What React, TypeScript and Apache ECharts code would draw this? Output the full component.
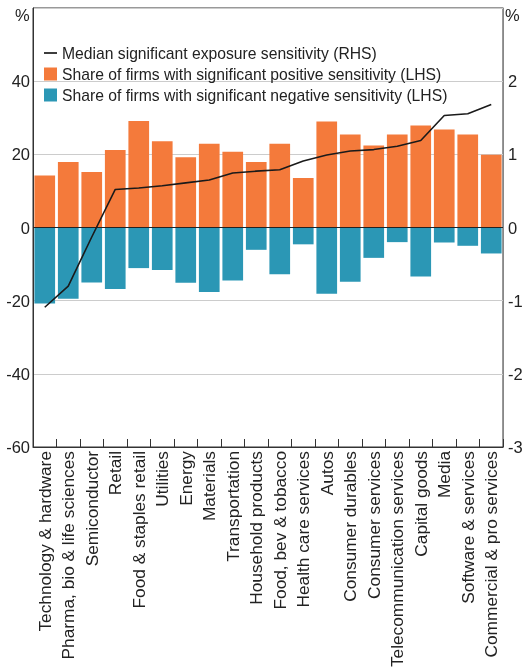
import React, { useEffect, useRef } from "react";
import * as echarts from "echarts";

const categories = [
  "Technology & hardware",
  "Pharma, bio & life sciences",
  "Semiconductor",
  "Retail",
  "Food & staples retail",
  "Utilities",
  "Energy",
  "Materials",
  "Transportation",
  "Household products",
  "Food, bev & tobacco",
  "Health care services",
  "Autos",
  "Consumer durables",
  "Consumer services",
  "Telecommunication services",
  "Capital goods",
  "Media",
  "Software & services",
  "Commercial & pro services",
];

const positiveShare = [14.2, 17.9, 15.2, 21.2, 29.1, 23.6, 19.2, 22.9, 20.7, 17.9, 22.9, 13.5, 29.0, 25.4, 22.4, 25.4, 27.9, 26.8, 25.4, 19.9];
const negativeShare = [-20.8, -19.5, -15.0, -16.8, -11.1, -11.6, -15.1, -17.6, -14.5, -6.1, -12.8, -4.6, -18.1, -14.8, -8.3, -4.0, -13.4, -4.1, -5.0, -7.1];
const medianSensitivity = [-1.09, -0.8, -0.13, 0.52, 0.54, 0.57, 0.61, 0.65, 0.745, 0.77, 0.79, 0.91, 0.99, 1.045, 1.065, 1.11, 1.19, 1.53, 1.555, 1.68];

const seriesNames = [
  "Median significant exposure sensitivity (RHS)",
  "Share of firms with significant positive sensitivity (LHS)",
  "Share of firms with significant negative sensitivity (LHS)",
];

const ORANGE = "#F47A3B";
const TEAL = "#2B97B5";
const FONT = "Liberation Sans";

export default function App() {
  const ref = useRef<HTMLDivElement>(null);
  useEffect(() => {
    if (!ref.current) return;
    const chart = echarts.init(ref.current, null, { renderer: "svg" });
    chart.setOption({
      animation: false,
      textStyle: { fontFamily: FONT },
      grid: {
        left: 33,
        right: 25,
        top: 8,
        bottom: 225,
        show: true,
        borderColor: "#333",
        borderWidth: 1,
        backgroundColor: "transparent",
      },
      legend: {
        orient: "vertical",
        left: 39,
        top: 40,
        itemWidth: 13,
        itemHeight: 13,
        itemGap: 5,
        textStyle: { fontSize: 15.7, color: "#222", fontFamily: FONT },
        data: [
          { name: seriesNames[0], icon: "path://M0,5.5 L16,5.5 L16,7.5 L0,7.5 Z", itemStyle: { color: "#111" } },
          { name: seriesNames[1], icon: "rect" },
          { name: seriesNames[2], icon: "rect" },
        ],
      },
      xAxis: {
        type: "category",
        data: categories,
        position: "bottom",
        axisLine: { show: true, onZero: false, lineStyle: { color: "#333", width: 1 } },
        axisTick: { show: true, inside: true, length: 8, lineStyle: { color: "#333" } },
        axisLabel: {
          rotate: 90,
          interval: 0,
          fontSize: 17.3,
          color: "#222",
          margin: 4,
          fontFamily: FONT,
        },
      },
      yAxis: [
        {
          type: "value",
          min: -60,
          max: 60,
          interval: 20,
          position: "left",
          axisLine: { show: true, lineStyle: { color: "#333" } },
          axisTick: { show: false },
          splitLine: { show: true, lineStyle: { color: "#cccccc", width: 1 } },
          axisLabel: {
            fontSize: 16.5,
            color: "#222",
            margin: 3,
            fontFamily: FONT,
            formatter: (v: number) => (v === 60 ? "" : String(v)),
          },
        },
        {
          type: "value",
          min: -3,
          max: 3,
          interval: 1,
          position: "right",
          axisLine: { show: true, lineStyle: { color: "#888" } },
          axisTick: { show: false },
          splitLine: { show: false },
          axisLabel: {
            fontSize: 16.5,
            color: "#222",
            margin: 5,
            fontFamily: FONT,
            formatter: (v: number) => (v === 3 ? "" : String(v)),
          },
        },
      ],
      series: [
        {
          name: seriesNames[1],
          type: "bar",
          data: positiveShare,
          yAxisIndex: 0,
          barCategoryGap: "12%",
          barGap: "-100%",
          itemStyle: { color: ORANGE },
          z: 2,
        },
        {
          name: seriesNames[2],
          type: "bar",
          data: negativeShare,
          yAxisIndex: 0,
          barCategoryGap: "12%",
          barGap: "-100%",
          itemStyle: { color: TEAL },
          z: 2,
          markLine: {
            silent: true,
            symbol: "none",
            label: { show: false },
            lineStyle: { color: "#222", width: 1.2, type: "solid" },
            data: [{ yAxis: 0 }],
          },
        },
        {
          name: seriesNames[0],
          type: "line",
          data: medianSensitivity,
          yAxisIndex: 1,
          symbol: "none",
          lineStyle: { color: "#1a1a1a", width: 1.6 },
          itemStyle: { color: "#1a1a1a" },
          z: 5,
        },
      ],
      graphic: [
        {
          type: "text",
          left: 15,
          top: 6,
          style: { text: "%", fontSize: 16.5, fill: "#222", fontFamily: FONT },
        },
        {
          type: "text",
          left: 505,
          top: 6,
          style: { text: "%", fontSize: 16.5, fill: "#222", fontFamily: FONT },
        },
      ],
    });
    return () => chart.dispose();
  }, []);
  return (
    <div
      ref={ref}
      style={{ position: "fixed", left: 0, top: 0, width: 528, height: 672 }}
    />
  );
}
